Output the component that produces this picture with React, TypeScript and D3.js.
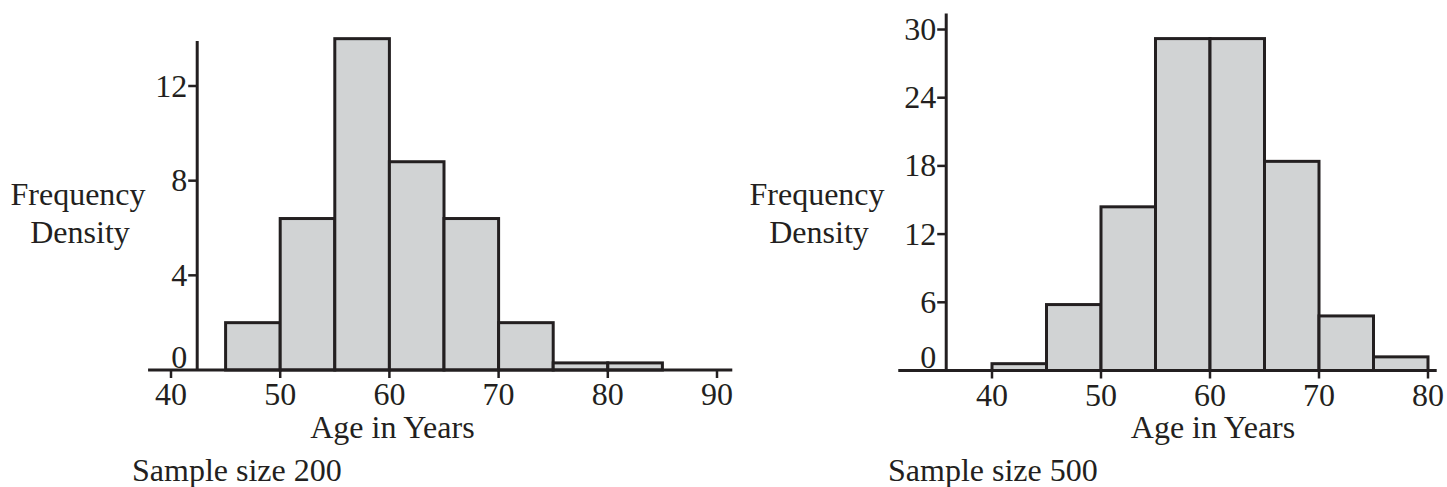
import * as d3 from 'd3';

// Sample size 200
const edges200 = [45, 50, 55, 60, 65, 70, 75, 80, 85];
const density200 = [2, 6.4, 14, 8.8, 6.4, 2, 0.3, 0.3];
const xTicks200 = [40, 50, 60, 70, 80, 90];
const yTicks200 = [0, 4, 8, 12];

// Sample size 500
const edges500 = [40, 45, 50, 55, 60, 65, 70, 75, 80];
const density500 = [0.6, 5.8, 14.4, 29.2, 29.2, 18.4, 4.8, 1.2];
const xTicks500 = [40, 50, 60, 70, 80];
const yTicks500 = [0, 6, 12, 18, 24, 30];

const INK = '#231f20';
const FILL = '#d1d3d4';
const FONT = '"Liberation Serif", "Times New Roman", serif';

interface HistProps {
  edges: number[];
  density: number[];
  xTicks: number[];
  yTicks: number[];
  xDomain: [number, number];
  xRange: [number, number];
  yDomain: [number, number];
  yRange: [number, number];
  xAxisExtent: [number, number]; // in data units
  yAxisAt: number; // x value where the y axis sits
  yAxisTop: number;
  labelX: number; // centre of "Frequency Density"
  sampleX: number;
  sampleText: string;
}

function Histogram(p: HistProps) {
  const x = d3.scaleLinear().domain(p.xDomain).range(p.xRange);
  const y = d3.scaleLinear().domain(p.yDomain).range(p.yRange);
  const y0 = y(0);
  const axisX = x(p.yAxisAt);

  const bins = p.density.map((d, i) => ({ x0: p.edges[i], x1: p.edges[i + 1], d }));

  return (
    <g fontFamily={FONT} fontSize={32} fill={INK}>
      {bins.map((b, i) => (
        <rect
          key={i}
          x={x(b.x0)}
          y={y(b.d)}
          width={x(b.x1) - x(b.x0)}
          height={y0 - y(b.d)}
          fill={FILL}
          stroke={INK}
          strokeWidth={3}
        />
      ))}

      {/* x axis */}
      <line x1={x(p.xAxisExtent[0])} x2={x(p.xAxisExtent[1])} y1={y0} y2={y0} stroke={INK} strokeWidth={3} />
      {p.xTicks.map((t) => (
        <g key={t}>
          <line x1={x(t)} x2={x(t)} y1={y0} y2={y0 + 8} stroke={INK} strokeWidth={2.5} />
          <text x={x(t)} y={y0 + 35} textAnchor="middle">{t}</text>
        </g>
      ))}

      {/* y axis */}
      <line x1={axisX} x2={axisX} y1={y(p.yAxisTop)} y2={y0} stroke={INK} strokeWidth={3} />
      {p.yTicks.map((t) => (
        <g key={t}>
          {t !== 0 && <line x1={axisX - 9} x2={axisX} y1={y(t)} y2={y(t)} stroke={INK} strokeWidth={2.5} />}
          <text x={axisX - 10} y={t === 0 ? y(t) - 13 : y(t)} dy="0.33em" textAnchor="end">{t}</text>
        </g>
      ))}

      <text x={p.labelX} y={205} textAnchor="middle">Frequency</text>
      <text x={p.labelX + 2} y={243} textAnchor="middle">Density</text>
      <text x={x(60) + 3} y={438} textAnchor="middle">Age in Years</text>
      <text x={p.sampleX} y={481}>{p.sampleText}</text>
    </g>
  );
}

export default function App() {
  return (
    <svg
      width={1447}
      height={487}
      style={{ position: 'absolute', left: 0, top: 0, background: '#fff' }}
    >
      <Histogram
        edges={edges200}
        density={density200}
        xTicks={xTicks200}
        yTicks={yTicks200}
        xDomain={[40, 90]}
        xRange={[171, 717]}
        yDomain={[0, 12]}
        yRange={[370, 86]}
        xAxisExtent={[37.9, 91.4]}
        yAxisAt={42.4}
        yAxisTop={13.9}
        labelX={78}
        sampleX={132}
        sampleText="Sample size 200"
      />
      <Histogram
        edges={edges500}
        density={density500}
        xTicks={xTicks500}
        yTicks={yTicks500}
        xDomain={[40, 80]}
        xRange={[992, 1428]}
        yDomain={[0, 30]}
        yRange={[370.5, 29.5]}
        xAxisExtent={[31.4, 80.8]}
        yAxisAt={35.8}
        yAxisTop={31.4}
        labelX={817}
        sampleX={888}
        sampleText="Sample size 500"
      />
    </svg>
  );
}
